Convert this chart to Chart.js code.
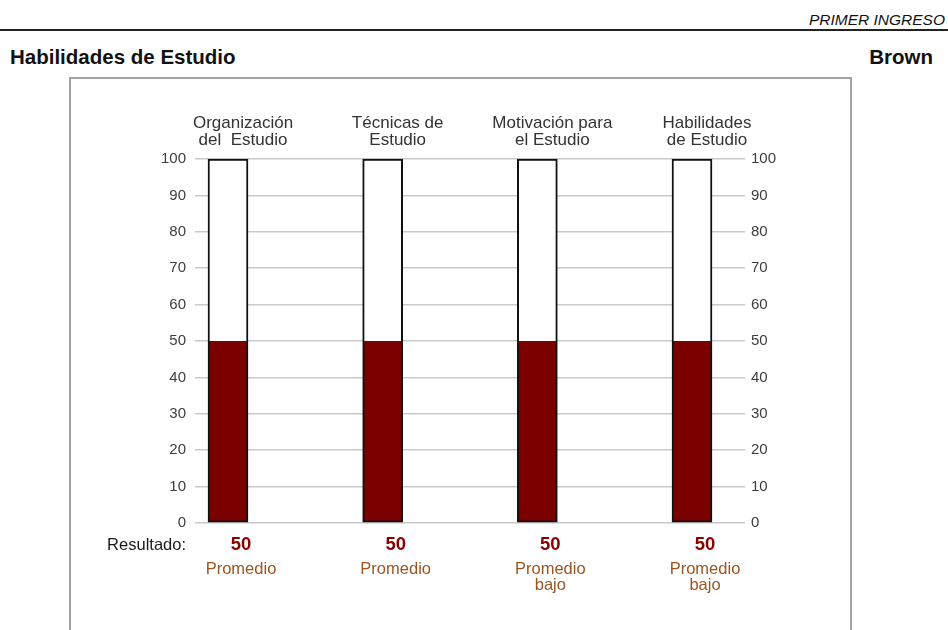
<!DOCTYPE html>
<html>
<head>
<meta charset="utf-8">
<script src="https://cdn.jsdelivr.net/npm/chart.js@4.4.0/dist/chart.umd.min.js"></script>
<style>
    body { margin: 0; width: 948px; height: 630px; overflow: hidden; background: #fff; font-family: 'Liberation Sans', Arial, sans-serif; position: relative; }
    #page-tag { position: absolute; right: 3px; top: 11px; font-size: 15.5px; font-style: italic; color: #111; }
    #rule { position: absolute; left: 0; top: 29px; width: 948px; height: 2px; background: #222; }
    #title { position: absolute; left: 10px; top: 45px; font-size: 20.5px; font-weight: bold; color: #111; }
    #student { position: absolute; right: 15px; top: 45px; font-size: 20.5px; font-weight: bold; color: #111; }
    #frame { position: absolute; left: 69px; top: 77px; width: 779px; height: 600px; border: 2px solid #a3a3a3; border-bottom: none; }
    #chart { position: absolute; left: 0; top: 0; z-index: 2; }
</style>
</head>
<body>
<div id="page-tag">PRIMER INGRESO</div>
<div id="rule"></div>
<div id="title">Habilidades de Estudio</div>
<div id="student">Brown</div>
<div id="frame"></div>
<canvas id="chart" width="948" height="630"></canvas>

<script>
// Chart data
const categories = [
    ['Organización', 'del  Estudio'],
    ['Técnicas de', 'Estudio'],
    ['Motivación para', 'el Estudio'],
    ['Habilidades', 'de Estudio']
];
const scores = [50, 50, 50, 50];
const levels = [['Promedio'], ['Promedio'], ['Promedio', 'bajo'], ['Promedio', 'bajo']];
const scaleMax = 100;
const scaleStep = 10;
const resultLabel = 'Resultado:';

const remaining = scores.map(v => scaleMax - v);

Chart.defaults.font.family = "'Liberation Sans', Arial, sans-serif";

// draws the result number and level text under each bar
const resultsPlugin = {
    id: 'results',
    afterDraw(chart) {
        const ctx = chart.ctx;
        const xScale = chart.scales.x;
        const left = chart.chartArea.left;
        ctx.save();
        ctx.textBaseline = 'middle';

        ctx.textAlign = 'right';
        ctx.fillStyle = '#1a1a1a';
        ctx.font = "16.5px 'Liberation Sans', Arial, sans-serif";
        ctx.fillText(resultLabel, left - 42, 545);

        ctx.textAlign = 'center';
        scores.forEach((v, i) => {
            const x = xScale.getPixelForValue(i) + 13;
            ctx.fillStyle = '#8a0000';
            ctx.font = "bold 18.5px 'Liberation Sans', Arial, sans-serif";
            ctx.fillText(String(v), x, 545);

            ctx.fillStyle = '#9a5523';
            ctx.font = "16.5px 'Liberation Sans', Arial, sans-serif";
            levels[i].forEach((line, j) => {
                ctx.fillText(line, x, 569 + j * 16);
            });
        });
        ctx.restore();
    }
};

const ctx = document.getElementById('chart').getContext('2d');
new Chart(ctx, {
    type: 'bar',
    data: {
        labels: categories,
        datasets: [
            {
                data: scores,
                backgroundColor: '#7b0000',
                borderColor: '#111',
                borderWidth: { left: 2, right: 2, bottom: 2, top: 0 },
                borderSkipped: false,
                barThickness: 40,
                clip: false
            },
            {
                data: remaining,
                backgroundColor: '#ffffff',
                borderColor: '#111',
                borderWidth: { left: 2, right: 2, top: 2, bottom: 0 },
                borderSkipped: false,
                barThickness: 40,
                clip: false
            }
        ]
    },
    options: {
        responsive: false,
        animation: false,
        layout: { padding: { left: 0, right: 0, top: 0, bottom: 107 } },
        plugins: {
            legend: { display: false },
            tooltip: { enabled: false }
        },
        scales: {
            x: {
                position: 'top',
                stacked: true,
                offset: false,
                grid: { display: false, drawTicks: false },
                border: { display: false },
                ticks: {
                    autoSkip: false,
                    maxRotation: 0,
                    padding: 11,
                    labelOffset: 15,
                    color: '#333',
                    font: { size: 17, lineHeight: 0.95 }
                },
                afterFit(scale) { scale.height = 159; }
            },
            y: {
                position: 'left',
                stacked: true,
                min: 0,
                max: scaleMax,
                z: 1,
                grid: { color: '#c9c9c9', lineWidth: 1.5, tickLength: 33 },
                border: { display: false },
                ticks: { stepSize: scaleStep, padding: 9, color: '#3d3d3d', font: { size: 15 } },
                afterFit(scale) { scale.width = 228; }
            },
            y2: {
                position: 'right',
                min: 0,
                max: scaleMax,
                z: 1,
                grid: { color: '#c9c9c9', lineWidth: 1.5, tickLength: 53, drawOnChartArea: false },
                border: { display: false },
                ticks: { stepSize: scaleStep, padding: 6, color: '#3d3d3d', font: { size: 15 } },
                afterFit(scale) { scale.width = 256; }
            }
        }
    },
    plugins: [resultsPlugin]
});
</script>
</body>
</html>
